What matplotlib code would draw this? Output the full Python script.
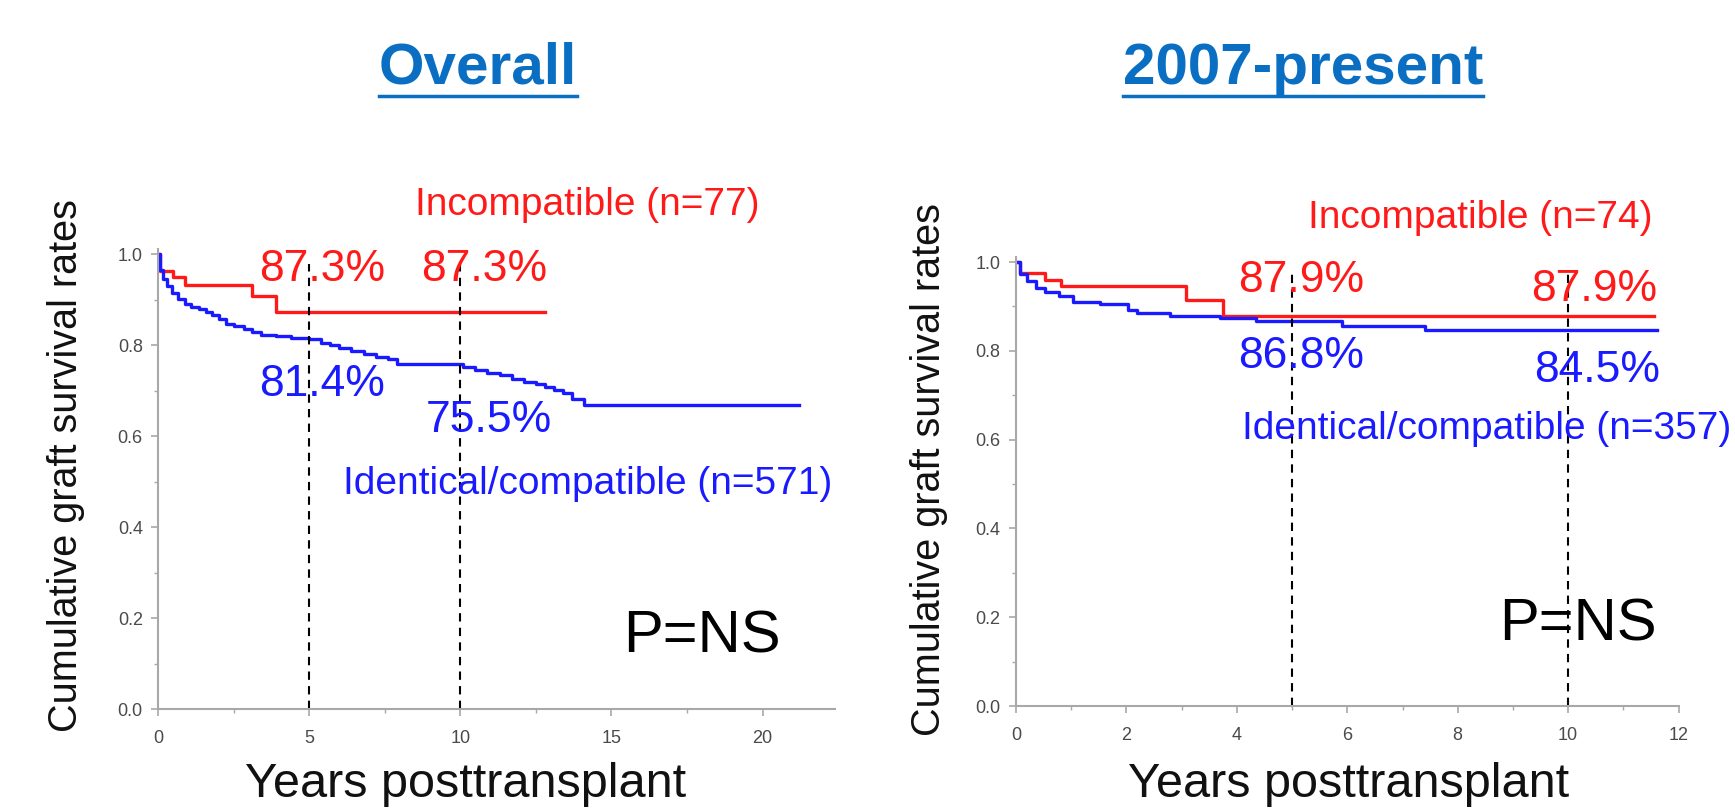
import numpy as np
import matplotlib
matplotlib.use("Agg")
from matplotlib import pyplot as plt
from matplotlib.lines import Line2D
from matplotlib.ticker import MultipleLocator

plt.rcParams['font.family'] = ['Liberation Sans', 'DejaVu Sans']

# ---- data ----
# Overall
ov_inc_t = [0, 0.07, 0.5, 0.9, 3.1, 3.9, 12.8]
ov_inc_s = [1.0, 0.964, 0.95, 0.932, 0.909, 0.873, 0.873]
ov_id_t = [0, 0.05, 0.15, 0.3, 0.45, 0.65, 0.9, 1.1, 1.34, 1.6, 1.8, 2.0, 2.24, 2.5,
           2.84, 3.1, 3.4, 3.9, 4.4, 5.0, 5.4, 5.7, 6.0, 6.4, 6.8, 7.2, 7.6, 7.9,
           10.1, 10.5, 10.9, 11.3, 11.7, 12.1, 12.5, 12.8, 13.1, 13.4, 13.7, 14.1, 21.2]
ov_id_s = [1.0, 0.965, 0.945, 0.93, 0.916, 0.903, 0.89, 0.885, 0.88, 0.873, 0.866, 0.857, 0.847, 0.842,
           0.836, 0.829, 0.823, 0.82, 0.817, 0.814, 0.806, 0.80, 0.794, 0.787, 0.782, 0.775, 0.769, 0.758,
           0.752, 0.745, 0.74, 0.735, 0.727, 0.72, 0.714, 0.709, 0.702, 0.695, 0.682, 0.669, 0.669]

# 2007-present
pr_inc_t = [0, 0.07, 0.53, 0.82, 3.07, 3.75, 11.55]
pr_inc_s = [1.0, 0.976, 0.959, 0.946, 0.914, 0.879, 0.879]
pr_id_t = [0, 0.07, 0.19, 0.36, 0.53, 0.78, 1.03, 1.53, 2.03, 2.2, 2.78, 3.7, 4.35, 5.9, 7.4, 11.6]
pr_id_s = [1.0, 0.972, 0.957, 0.942, 0.933, 0.923, 0.91, 0.905, 0.893, 0.886, 0.878, 0.874, 0.868,
           0.856, 0.846, 0.846]

marks = [5, 10]
titles = ["Overall", "2007-present"]
ov_labels = {"inc": "Incompatible (n=77)", "id": "Identical/compatible (n=571)"}
pr_labels = {"inc": "Incompatible (n=74)", "id": "Identical/compatible (n=357)"}
ov_pct = ["87.3%", "87.3%", "81.4%", "75.5%"]
pr_pct = ["87.9%", "87.9%", "86.8%", "84.5%"]

RED = '#ff1a1a'
BLUE = '#1a1aff'
AXC = '#a8a8a8'
TXC = '#4a4a4a'

fig = plt.figure(figsize=(17.35, 8.08), dpi=100)
ax1 = fig.add_axes([0.0911, 0.1225, 0.3902, 0.5693])
ax2 = fig.add_axes([0.5856, 0.1262, 0.3819, 0.5561])


def style(ax, xmax, xmaj, xmin):
    ax.set_xlim(0, xmax)
    ax.set_ylim(0, 1.012)
    for s in ['top', 'right']:
        ax.spines[s].set_visible(False)
    for s in ['left', 'bottom']:
        ax.spines[s].set_color(AXC)
        ax.spines[s].set_linewidth(1.5)
    ax.xaxis.set_major_locator(MultipleLocator(xmaj))
    ax.xaxis.set_minor_locator(MultipleLocator(xmin))
    ax.yaxis.set_minor_locator(MultipleLocator(0.1))
    ax.set_yticks(np.arange(0, 1.01, 0.2))
    ax.set_yticklabels([f"{v:.1f}" for v in np.arange(0, 1.01, 0.2)])
    ax.tick_params(which='major', length=5, width=1.2, color=AXC, labelcolor=TXC,
                   labelsize=13)
    ax.tick_params(axis='x', which='major', pad=10)
    ax.tick_params(axis='y', which='major', pad=6)
    ax.tick_params(which='minor', length=3, width=1.0, color=AXC)


# left panel
ax1.step(ov_inc_t, ov_inc_s, where='post', color=RED, lw=2.4)
ax1.step(ov_id_t, ov_id_s, where='post', color=BLUE, lw=2.4)
for m in marks:
    ax1.plot([m, m], [0, 0.98], color='black', lw=1.5, ls=(0, (4, 3)))
style(ax1, 22.4, 5, 2.5)

ax1.text(14.2, 1.109, ov_labels["inc"], color=RED, fontsize=28, ha='center', va='center')
ax1.text(5.42, 0.966, ov_pct[0], color=RED, fontsize=32, ha='center', va='center')
ax1.text(10.8, 0.966, ov_pct[1], color=RED, fontsize=32, ha='center', va='center')
ax1.text(5.42, 0.713, ov_pct[2], color=BLUE, fontsize=32, ha='center', va='center')
ax1.text(10.95, 0.635, ov_pct[3], color=BLUE, fontsize=32, ha='center', va='center')
ax1.text(14.2, 0.496, ov_labels["id"], color=BLUE, fontsize=28, ha='center', va='center')
ax1.text(18.0, 0.158, "P=NS", color='black', fontsize=43, ha='center', va='center')

# right panel
ax2.step(pr_inc_t, pr_inc_s, where='post', color=RED, lw=2.4)
ax2.step(pr_id_t, pr_id_s, where='post', color=BLUE, lw=2.4)
for m in marks:
    ax2.plot([m, m], [0, 0.985], color='black', lw=1.5, ls=(0, (4, 3)))
style(ax2, 12, 2, 1)

ax2.text(8.40, 1.100, pr_labels["inc"], color=RED, fontsize=28, ha='center', va='center')
ax2.text(5.17, 0.958, pr_pct[0], color=RED, fontsize=32, ha='center', va='center')
ax2.text(10.48, 0.938, pr_pct[1], color=RED, fontsize=32, ha='center', va='center')
ax2.text(5.17, 0.788, pr_pct[2], color=BLUE, fontsize=32, ha='center', va='center')
ax2.text(10.52, 0.756, pr_pct[3], color=BLUE, fontsize=32, ha='center', va='center')
ax2.text(4.09, 0.623, pr_labels["id"], color=BLUE, fontsize=28, ha='left', va='center')
ax2.text(10.18, 0.182, "P=NS", color='black', fontsize=43, ha='center', va='center')

# axis labels as figure text
W, H = 1735.0, 808.0
fig.text(66 / W, 1 - 466 / H, "Cumulative graft survival rates", rotation=90,
         fontsize=28.5, ha='center', va='center', color='#111111')
fig.text(929 / W, 1 - 470 / H, "Cumulative graft survival rates", rotation=90,
         fontsize=28.5, ha='center', va='center', color='#111111')
fig.text(466 / W, 1 - 797 / H, "Years posttransplant", fontsize=35,
         ha='center', va='baseline', color='#111111')
fig.text(1349 / W, 1 - 797 / H, "Years posttransplant", fontsize=35,
         ha='center', va='baseline', color='#111111')

# underlined titles
TC = '#0a6fc2'
t1 = fig.text(478 / W, 1 - 69 / H, titles[0], fontsize=42, fontweight='bold',
              color=TC, ha='center', va='center')
t2 = fig.text(1303 / W, 1 - 69 / H, titles[1], fontsize=42, fontweight='bold',
              color=TC, ha='center', va='center')
fig.canvas.draw()
r = fig.canvas.get_renderer()
for t in (t1, t2):
    bb = t.get_window_extent(r)
    y = 1 - 96 / H
    fig.add_artist(Line2D([bb.x0 / W, bb.x1 / W], [y, y], color=TC, lw=2.5,
                          transform=fig.transFigure))

fig.savefig("out.png", dpi=100)
